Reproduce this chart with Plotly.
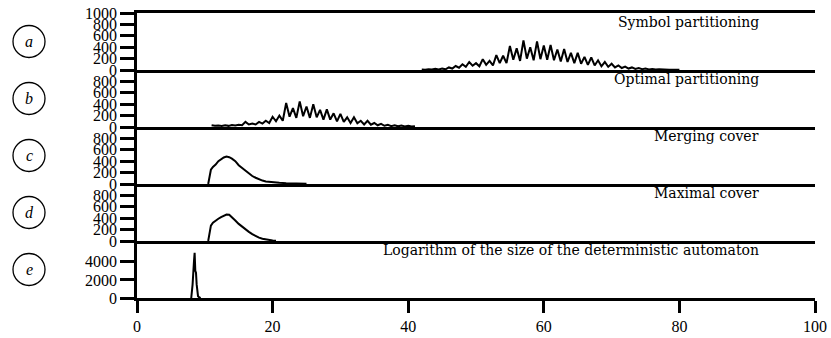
import plotly.graph_objects as go
from plotly.subplots import make_subplots

# ---- data ----
a_peak_x = list(range(42, 81))
a_peaks = [10, 15, 20, 25, 45, 70, 100, 140, 120, 190, 160, 260, 250, 420, 380, 520, 400, 500, 430,
           440, 360, 370, 300, 300, 230, 220, 170, 140, 110, 80, 60, 45, 35, 25, 18, 12, 8, 5, 3]
a_troughs = [5, 8, 10, 12, 25, 40, 55, 75, 65, 90, 80, 120, 120, 180, 160, 200, 170, 190, 180,
             170, 150, 140, 120, 110, 90, 80, 65, 55, 45, 35, 25, 20, 15, 10, 8, 5, 4, 2]

b_peak_x = list(range(11, 42))
b_peaks = [30, 25, 30, 35, 40, 90, 60, 90, 110, 180, 200, 420, 330, 450, 360, 400, 300, 310, 240,
           230, 170, 170, 110, 110, 70, 55, 40, 30, 25, 20, 15]
b_troughs = [20, 18, 20, 25, 30, 45, 45, 60, 70, 100, 110, 180, 160, 190, 160, 170, 130, 130, 100,
             90, 70, 65, 45, 40, 30, 22, 15, 12, 10, 8]

c_x = [10.5, 10.7, 10.9, 11.2, 11.6, 12.0, 12.4, 12.8, 13.2, 13.6, 14.0, 14.5, 15.0, 15.5, 16.0,
       16.5, 17.0, 17.5, 18.0, 18.5, 19.0, 20.0, 21.0, 22.0, 23.0, 24.0, 25.0]
c_y = [0, 150, 250, 300, 340, 400, 440, 465, 480, 470, 445, 400, 330, 280, 230, 180, 140, 110,
       80, 60, 45, 30, 22, 15, 10, 6, 3]

d_x = [10.5, 10.7, 10.9, 11.2, 11.6, 12.0, 12.4, 12.8, 13.2, 13.6, 14.0, 14.5, 15.0, 15.5, 16.0,
       16.5, 17.0, 17.5, 18.0, 18.5, 19.0, 19.5, 20.0, 20.5]
d_y = [0, 150, 270, 320, 360, 390, 420, 450, 465, 460, 420, 360, 300, 250, 200, 160, 120, 85,
       60, 40, 25, 15, 8, 3]

e_x = [8.0, 8.2, 8.4, 8.5, 8.6, 8.7, 8.8, 8.9, 9.0, 9.2, 9.4]
e_y = [0, 1500, 4000, 5000, 3000, 2800, 1500, 600, 200, 50, 0]

titles = ["Symbol partitioning", "Optimal partitioning", "Merging cover", "Maximal cover",
          "Logarithm of the size of the deterministic automaton"]
letters = ["a", "b", "c", "d", "e"]
x_ticks = [0, 20, 40, 60, 80, 100]


def interleave(px, peaks, troughs):
    xs, ys = [], []
    for i, x in enumerate(px):
        xs.append(x)
        ys.append(peaks[i])
        if i < len(troughs):
            xs.append(x + 0.5)
            ys.append(troughs[i])
    return xs, ys


ax, ay = interleave(a_peak_x, a_peaks, a_troughs)
bx, by = interleave(b_peak_x, b_peaks, b_troughs)

SERIF = "Liberation Serif"
TSERIF = "DejaVu Serif"
fig = make_subplots(rows=5, cols=1, shared_xaxes=True, vertical_spacing=0)
series = [(ax, ay, 2), (bx, by, 2), (c_x, c_y, 2), (d_x, d_y, 2), (e_x, e_y, 2)]
for i, (xs, ys, w) in enumerate(series):
    fig.add_trace(go.Scatter(x=xs, y=ys, mode="lines", line=dict(color="black", width=w),
                             showlegend=False, hoverinfo="skip"), row=i + 1, col=1)

for i in range(5):
    r = i + 1
    fig.update_xaxes(row=r, col=1, range=[0, 100], showline=True, linecolor="black", linewidth=2.5,
                     mirror=(r == 1), showgrid=False, zeroline=False, automargin=False,
                     ticks="outside" if r == 5 else "", tickvals=x_ticks if r == 5 else None,
                     ticklen=12, tickwidth=2.5, tickcolor="black",
                     showticklabels=(r == 5), tickfont=dict(family=SERIF, size=16, color="black"))
    if r < 5:
        yr = [0, 1000]
        tv = [0, 200, 400, 600, 800, 1000] if r == 1 else [0, 200, 400, 600, 800]
    else:
        yr = [0, 6300]
        tv = [0, 2000, 4000]
    fig.update_yaxes(row=r, col=1, range=yr, tickvals=tv, showline=True, linecolor="black",
                     linewidth=2.5, ticks="outside", ticklen=14, tickwidth=3, tickcolor="black",
                     showgrid=False, zeroline=False, automargin=False,
                     tickfont=dict(family=SERIF, size=16, color="black"))

shapes = []
annotations = []
cx = (29 - 137) / 678
for i in range(5):
    cy = 0.9 - 0.2 * i
    shapes.append(dict(type="circle", xref="paper", yref="paper", xsizemode="pixel",
                       ysizemode="pixel", xanchor=cx, yanchor=cy, x0=-16, x1=16, y0=-16, y1=16,
                       line=dict(color="black", width=1.3)))
    annotations.append(dict(xref="paper", yref="paper", x=cx, y=cy, text="<i>" + letters[i] + "</i>",
                            showarrow=False, font=dict(family=SERIF, size=16, color="black"),
                            xanchor="center", yanchor="middle"))
    annotations.append(dict(xref="paper", yref="paper", x=(761 - 137) / 678, y=0.968 - 0.2 * i,
                            text=titles[i], showarrow=False, xanchor="right", yanchor="middle",
                            font=dict(family=TSERIF, size=14, color="black")))

fig.update_layout(width=831, height=338, margin=dict(l=137, r=16, t=13, b=40),
                  plot_bgcolor="white", paper_bgcolor="white", shapes=shapes,
                  annotations=annotations)
fig.write_html("out.html", config={"displayModeBar": False},
               post_script="document.body.style.margin='0';document.body.style.overflow='hidden';")
